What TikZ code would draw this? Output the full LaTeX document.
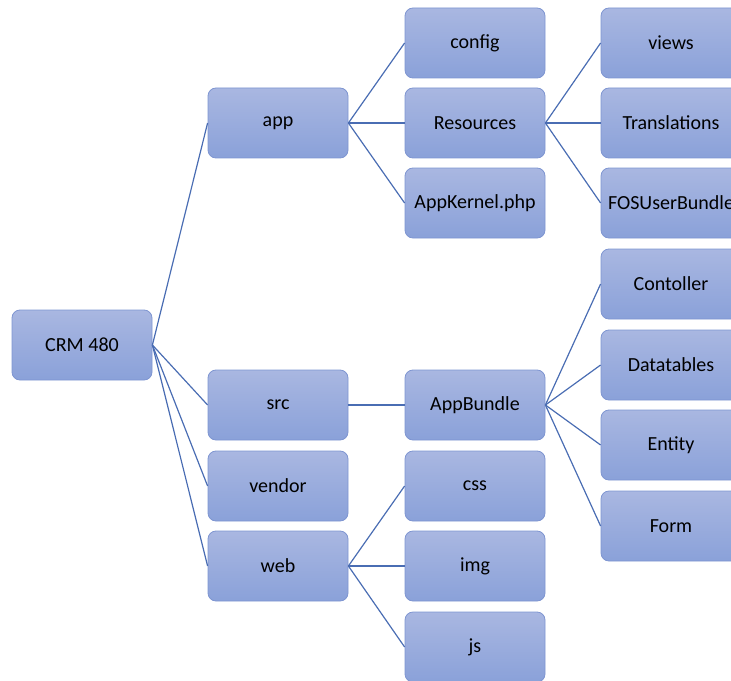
\documentclass[tikz,border=0pt]{standalone}
\usepackage{fontspec}
\setmainfont{Carlito}
\definecolor{boxtop}{HTML}{A9B7E1}
\definecolor{boxbot}{HTML}{8AA1D9}
\definecolor{boxline}{HTML}{7E95D1}
\definecolor{wire}{HTML}{4A6DB3}
\tikzset{
  folder/.style={rectangle, rounded corners=8*0.75pt, draw=boxline, line width=0.6pt,
    top color=boxtop, bottom color=boxbot,
    minimum width=105pt, minimum height=52.5pt, inner sep=0pt,
    font=\fontsize{15pt}{18pt}\selectfont, text=black},
  link/.style={draw=wire, line width=0.9pt}
}
\begin{document}
\begin{tikzpicture}[x=0.75pt,y=-0.75pt]
\useasboundingbox (0,0) rectangle (731,681);
\clip (0,0) rectangle (731,681);
% root
\node[folder] (crm) at (82,345) {CRM 480};
% first level
\node[folder] (app) at (278,123) {app};
\node[folder] (src) at (278,405) {src};
\node[folder] (vendor) at (278,486) {vendor};
\node[folder] (web) at (278,566) {web};
% second level
\node[folder] (config) at (475,43) {config};
\node[folder] (res) at (475,123) {Resources};
\node[folder] (kernel) at (475,203) {AppKernel.php};
\node[folder] (bundle) at (475,405) {AppBundle};
\node[folder] (css) at (475,486) {css};
\node[folder] (img) at (475,566) {img};
\node[folder] (js) at (475,647) {js};
% third level
\node[folder] (views) at (671,43) {views};
\node[folder] (trans) at (671,123) {Translations};
\node[folder] (fos) at (671,203) {FOSUserBundle};
\node[folder] (ctrl) at (671,284) {Contoller};
\node[folder] (dt) at (671,365) {Datatables};
\node[folder] (entity) at (671,445) {Entity};
\node[folder] (form) at (671,526) {Form};
% connectors
\foreach \c in {app,src,vendor,web} \draw[link] (crm.east) -- (\c.west);
\foreach \c in {config,res,kernel} \draw[link] (app.east) -- (\c.west);
\draw[link] (src.east) -- (bundle.west);
\foreach \c in {css,img,js} \draw[link] (web.east) -- (\c.west);
\foreach \c in {views,trans,fos} \draw[link] (res.east) -- (\c.west);
\foreach \c in {ctrl,dt,entity,form} \draw[link] (bundle.east) -- (\c.west);
\end{tikzpicture}
\end{document}
